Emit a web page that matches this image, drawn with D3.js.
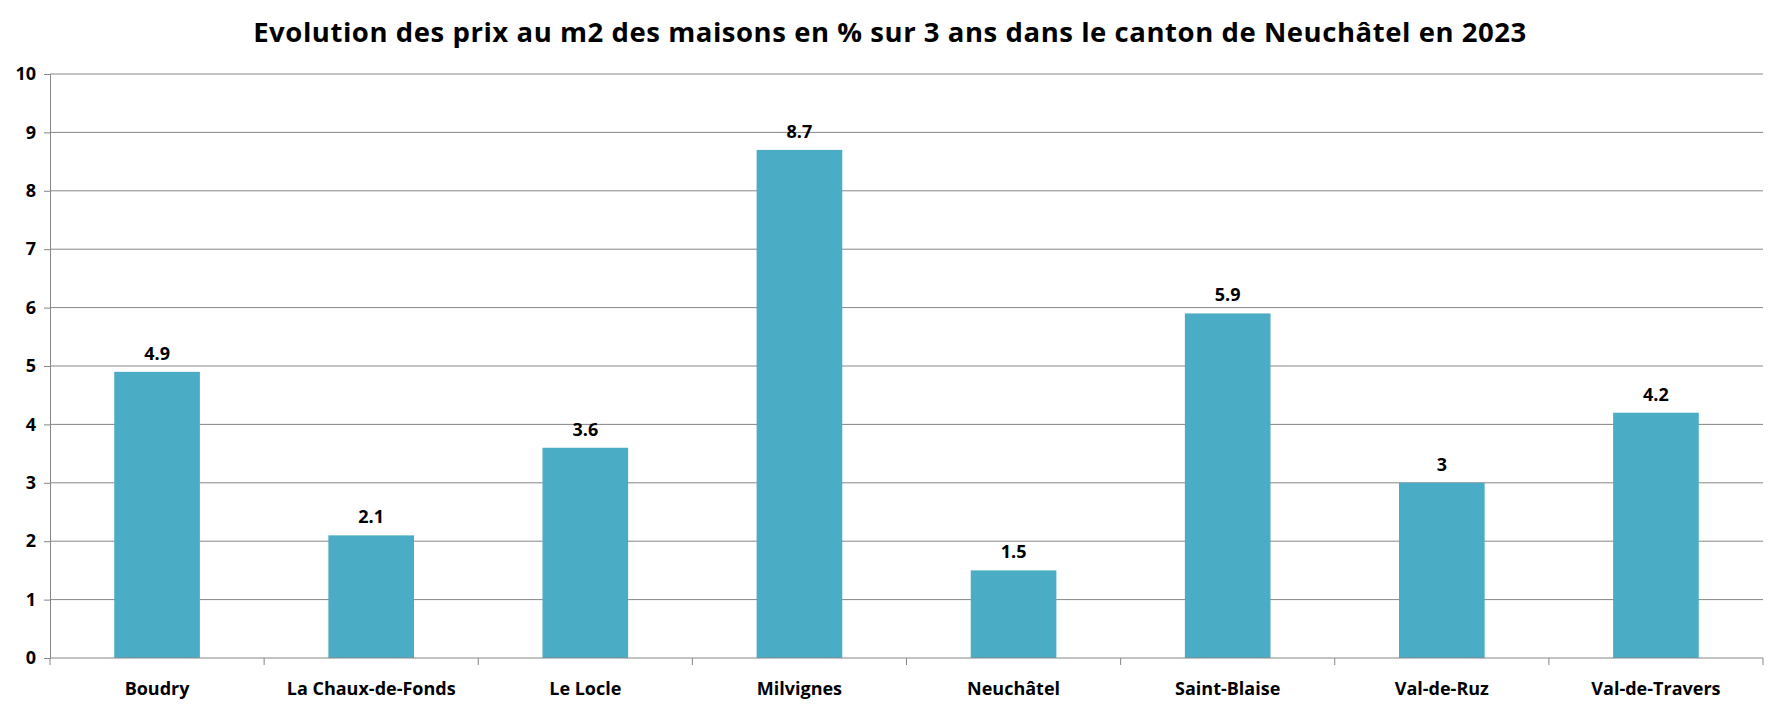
<!DOCTYPE html>
<html>
<head>
<meta charset="utf-8">
<script src="https://cdn.jsdelivr.net/npm/d3@7"></script>
<style>
  body { margin: 0; background: #fff; }
  text { font-family: "Open Sans", "Noto Sans", sans-serif; font-weight: bold; fill: #000; }
</style>
</head>
<body>
<div id="chart"></div>
<script>
// 데이터
var categories = ["Boudry", "La Chaux-de-Fonds", "Le Locle", "Milvignes", "Neuchâtel", "Saint-Blaise", "Val-de-Ruz", "Val-de-Travers"];
var values = [4.9, 2.1, 3.6, 8.7, 1.5, 5.9, 3, 4.2];
var yTicks = [0, 1, 2, 3, 4, 5, 6, 7, 8, 9, 10];
var title = "Evolution des prix au m2 des maisons en % sur 3 ans dans le canton de Neuchâtel en 2023";

function makeBarChart(div_id, pWidth, pHeight) {
	var margin = {top: 74, right: 18, bottom: 48, left: 50};
	var width = pWidth - margin.left - margin.right;
	var height = pHeight - margin.top - margin.bottom;

	var root = d3.select("#" + div_id).append("svg")
		.attr("width", pWidth)
		.attr("height", pHeight);

	// 제목
	root.append("text")
		.attr("x", 890)
		.attr("y", 42)
		.attr("text-anchor", "middle")
		.attr("font-size", 27.5)
		.attr("letter-spacing", 0.55)
		.text(title);

	var svg = root.append("g")
		.attr("transform", "translate(" + margin.left + "," + margin.top + ")");

	var x = d3.scaleBand().domain(categories).range([0, width]).paddingInner(0.6).paddingOuter(0.3);
	var y = d3.scaleLinear().domain([0, 10]).range([height, 0]);

	// 그리드
	svg.append("g")
		.selectAll("line")
		.data(yTicks.slice(1))
		.enter().append("line")
			.attr("x1", 0)
			.attr("x2", width)
			.attr("y1", function(d) { return y(d); })
			.attr("y2", function(d) { return y(d); })
			.attr("stroke", "#868686")
			.attr("stroke-width", 1);

	// 바
	svg.append("g")
		.selectAll("rect")
		.data(values)
		.enter().append("rect")
			.attr("x", function(d, i) { return x(categories[i]); })
			.attr("y", function(d) { return y(d); })
			.attr("width", x.bandwidth())
			.attr("height", function(d) { return height - y(d); })
			.attr("fill", "#4BACC6");

	// 값 라벨
	svg.append("g")
		.selectAll("text")
		.data(values)
		.enter().append("text")
			.attr("x", function(d, i) { return x(categories[i]) + x.bandwidth() / 2; })
			.attr("y", function(d) { return y(d) - 12; })
			.attr("text-anchor", "middle")
			.attr("font-size", 18)
			.text(function(d) { return d; });

	// y축
	var yAxis = d3.axisLeft(y).tickValues(yTicks).tickSize(6).tickPadding(8).tickFormat(d3.format("d"));
	var gy = svg.append("g").attr("class", "yAxis").call(yAxis);
	gy.selectAll("path, line").attr("stroke", "#868686");
	gy.selectAll("text").attr("font-size", 18).attr("font-family", null).attr("fill", "#000");

	// x축 (카테고리 경계 눈금)
	var gx = svg.append("g").attr("transform", "translate(0," + height + ")");
	gx.append("line").attr("x1", 0).attr("x2", width).attr("stroke", "#868686");
	var step = x.step();
	gx.selectAll(".tick")
		.data(d3.range(categories.length + 1))
		.enter().append("line")
			.attr("x1", function(d) { return d * step; })
			.attr("x2", function(d) { return d * step; })
			.attr("y1", 0)
			.attr("y2", 7)
			.attr("stroke", "#868686");
	gx.selectAll(".lbl")
		.data(categories)
		.enter().append("text")
			.attr("x", function(d) { return x(d) + x.bandwidth() / 2; })
			.attr("y", 37)
			.attr("text-anchor", "middle")
			.attr("font-size", 18)
			.text(function(d) { return d; });
}

makeBarChart("chart", 1781, 706);
</script>
</body>
</html>
